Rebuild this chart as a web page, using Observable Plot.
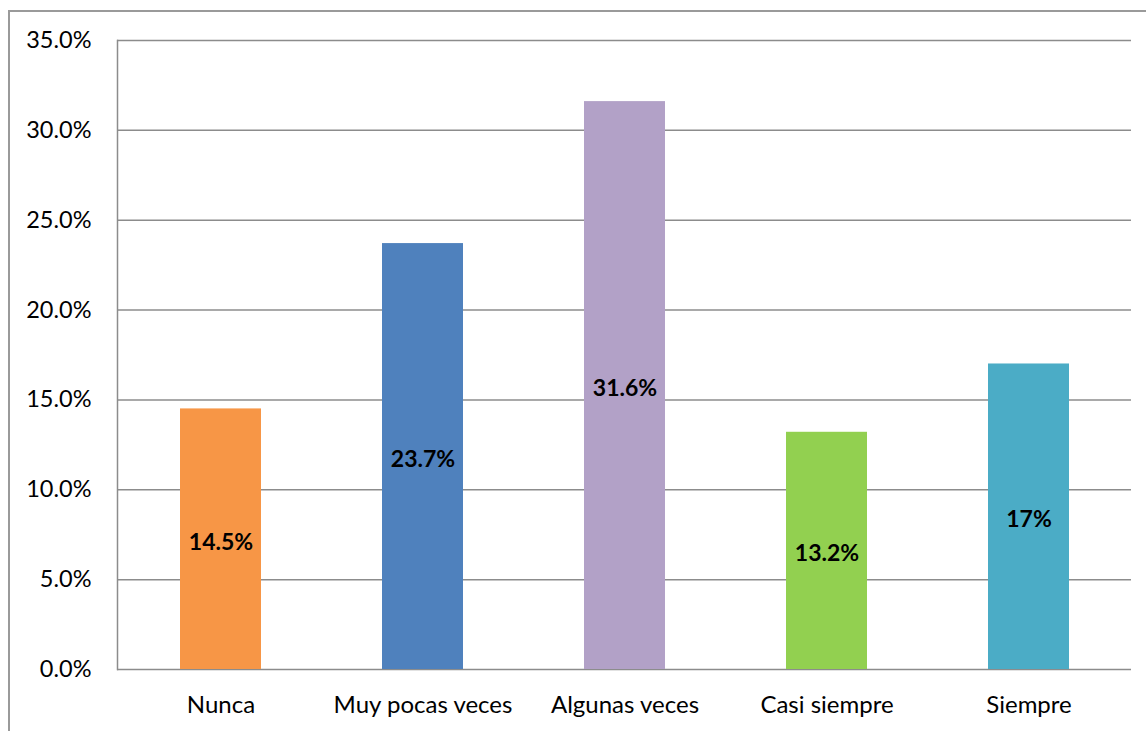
<!DOCTYPE html>
<html>
<head>
<meta charset="utf-8">
<script src="https://cdn.jsdelivr.net/npm/d3@7"></script>
<script src="https://cdn.jsdelivr.net/npm/@observablehq/plot@0.6"></script>
<style>
  html, body { margin: 0; padding: 0; background: #fff; overflow: hidden; }
  #wrap { position: relative; width: 1146px; height: 731px; }
  #frame { position: absolute; left: 8px; top: 10px; width: 1200px; height: 800px;
           border: 2px solid #9a9a9a; box-sizing: border-box; pointer-events: none; }
  #chart { position: absolute; left: 0; top: 0; }
</style>
</head>
<body>
<div id="wrap"><div id="chart"></div><div id="frame"></div></div>
<script>
const categories = ["Nunca", "Muy pocas veces", "Algunas veces", "Casi siempre", "Siempre"];
const values = [0.145, 0.237, 0.316, 0.132, 0.17];
const labels = ["14.5%", "23.7%", "31.6%", "13.2%", "17%"];
const colors = ["#F79646", "#4F81BD", "#B2A1C7", "#92D050", "#4BACC6"];
const yTicks = [0, 0.05, 0.10, 0.15, 0.20, 0.25, 0.30, 0.35];

const data = categories.map((c, i) => ({cat: c, value: values[i], label: labels[i], color: colors[i]}));

const chart = Plot.plot({
  width: 1146,
  height: 731,
  marginLeft: 117,
  marginRight: 15,
  marginTop: 40,
  marginBottom: 62,
  style: {fontFamily: "Lato, 'Open Sans', sans-serif", fontSize: "23px", color: "#000", background: "#fff"},
  x: {domain: categories, paddingInner: 0.6, paddingOuter: 0.3, label: null},
  y: {domain: [0, 0.35], label: null},
  marks: [
    Plot.gridY(yTicks, {stroke: "#8c8c8c", strokeOpacity: 1, strokeWidth: 1.5}),
    Plot.frame({anchor: "left", stroke: "#8c8c8c", strokeWidth: 1.5}),
    Plot.barY(data, {x: "cat", y: "value", fill: "color"}),
    Plot.text(data, {x: "cat", y: d => d.value / 2, text: "label", fontWeight: "bold", fontSize: 23, fill: "#000", dy: 3}),
    Plot.axisY(yTicks, {tickSize: 0, tickPadding: 26, tickFormat: d3.format(".1%"), fontSize: 23.5, fill: "#000"}),
    Plot.axisX({tickSize: 0, tickPadding: 26, fontSize: 24, fill: "#000"})
  ]
});
document.getElementById("chart").appendChild(chart);
</script>
</body>
</html>
